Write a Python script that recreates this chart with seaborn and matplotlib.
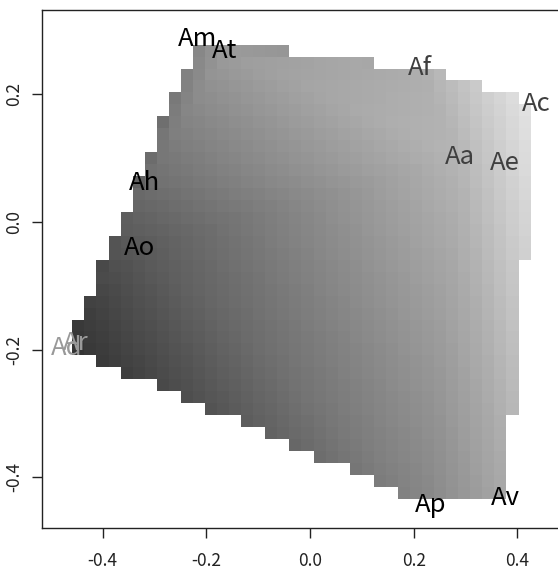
import numpy as np
import pandas as pd
import matplotlib
matplotlib.use("Agg")
import matplotlib.pyplot as plt
import matplotlib.tri as mtri
import seaborn as sns

# ---- data ----
labels = ["Am", "At", "Af", "Ac", "Aa", "Ae", "Ah", "Ao", "Ad", "Ar", "Ap", "Av"]
x_vals = [-0.216, -0.164, 0.212, 0.437, 0.290, 0.376, -0.320, -0.329, -0.470, -0.451, 0.232, 0.377]
y_vals = [0.287, 0.268, 0.241, 0.185, 0.102, 0.092, 0.061, -0.041, -0.198, -0.190, -0.443, -0.432]
z_vals = [0.52, 0.61, 0.68, 0.91, 0.71, 0.81, 0.43, 0.35, 0.19, 0.21, 0.53, 0.66]
label_colors = ["#000000", "#000000", "#3f3f3f", "#3f3f3f", "#3f3f3f", "#3f3f3f",
                "#000000", "#000000", "#999999", "#999999", "#000000", "#000000"]
x_ticks = [-0.4, -0.2, 0.0, 0.2, 0.4]
x_tick_labels = ["-0.4", "-0.2", "0.0", "0.2", "0.4"]
y_ticks = [-0.4, -0.2, 0.0, 0.2]
y_tick_labels = ["-0.4", "-0.2", "0.0", "0.2"]
n_grid = 40

df = pd.DataFrame(dict(label=labels, x=x_vals, y=y_vals, z=z_vals, color=label_colors))

sns.set_theme(style="ticks")
plt.rcParams['font.family'] = ['Noto Sans CJK JP', 'DejaVu Sans']

W, H = 558, 570
fig = plt.figure(figsize=(W / 100, H / 100), dpi=100)
ax = fig.add_axes([42 / W, 42 / H, 520 / W, 518 / H])

# linear interpolation surface on a 40x40 grid, masked outside the convex hull
tri = mtri.Triangulation(df["x"].values, df["y"].values)
interp = mtri.LinearTriInterpolator(tri, df["z"].values)
gx = np.linspace(df["x"].min(), df["x"].max(), n_grid)
gy = np.linspace(df["y"].min(), df["y"].max(), n_grid)
GX, GY = np.meshgrid(gx, gy)
Z = np.ma.masked_invalid(np.ma.filled(interp(GX, GY), np.nan))
Z[[0, -1], :] = np.ma.masked
Z[:, [0, -1]] = np.ma.masked

ax.pcolormesh(gx, gy, Z, cmap="gray", vmin=0, vmax=1, shading="nearest",
              edgecolors="none", linewidth=0, antialiased=False)

for _, r in df.iterrows():
    ax.text(r["x"], r["y"], r["label"], color=r["color"], fontsize=18.5,
            ha="center", va="center")

ax.set_xlim(-0.5169, 0.4860)
ax.set_ylim(-0.4794, 0.3319)
ax.set_xticks(x_ticks, x_tick_labels)
ax.set_yticks(y_ticks, y_tick_labels)
ax.tick_params(axis="both", direction="out", length=7.5, width=1, colors="#222222",
               labelsize=12.5)
ax.tick_params(axis="x", pad=10)
ax.tick_params(axis="y", pad=6)
for t in ax.get_yticklabels():
    t.set_rotation(90)
    t.set_va("center")
for s in ax.spines.values():
    s.set_color("#222222")
    s.set_linewidth(1)
ax.grid(False)
ax.set_facecolor("white")

fig.savefig("out.png", dpi=100)
